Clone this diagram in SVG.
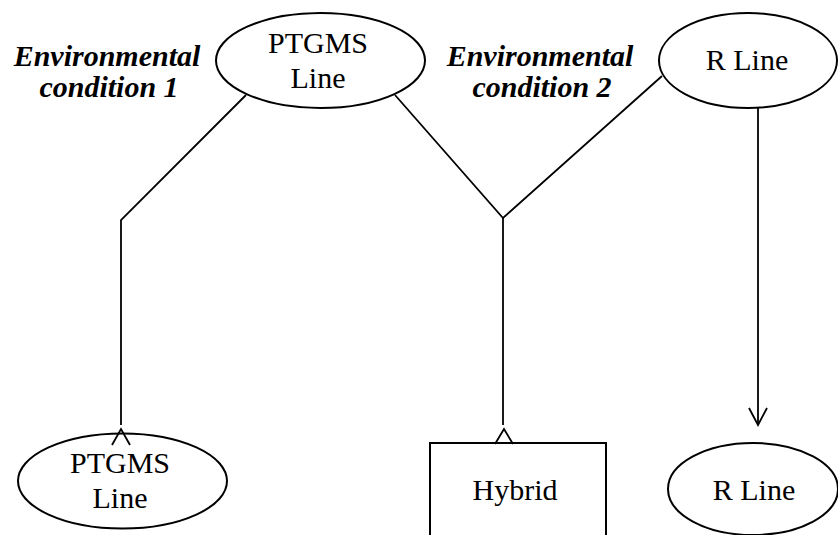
<svg xmlns="http://www.w3.org/2000/svg" width="838" height="535" viewBox="0 0 838 535">
<style>
.shape{fill:#fff;stroke:#000;stroke-width:2}
.lbl{font-family:"Liberation Serif",Tinos,"Times New Roman",Times,"Noto Serif","DejaVu Serif",serif;font-size:30px;fill:#000;text-anchor:middle}
.cond{font-family:"Liberation Serif",Tinos,"Times New Roman",Times,"Noto Serif","DejaVu Serif",serif;font-size:30px;font-weight:bold;font-style:italic;fill:#000;text-anchor:middle}
.edge{fill:none;stroke:#000;stroke-width:1.8}
</style>
<rect width="838" height="535" fill="#fff"/>
<g id="labels">
<text class="cond" x="107" y="66">Environmental</text>
<text class="cond" x="109" y="97">condition 1</text>
<text class="cond" x="540" y="66">Environmental</text>
<text class="cond" x="542" y="97">condition 2</text>
</g>
<g id="ptgms-top">
<ellipse class="shape" cx="320.5" cy="60.5" rx="104.5" ry="47.5"/>
<text class="lbl" x="318" y="53">PTGMS</text>
<text class="lbl" x="318" y="88">Line</text>
</g>
<g id="rline-top">
<ellipse class="shape" cx="748" cy="60.5" rx="89" ry="47.5"/>
<text class="lbl" x="747" y="70">R Line</text>
</g>
<g id="ptgms-bottom">
<ellipse class="shape" cx="122.5" cy="481" rx="104.5" ry="47.5"/>
<text class="lbl" x="120" y="473">PTGMS</text>
<text class="lbl" x="120" y="508">Line</text>
</g>
<g id="hybrid">
<rect class="shape" x="430" y="443" width="176" height="110"/>
<text class="lbl" x="515" y="500">Hybrid</text>
</g>
<g id="rline-bottom">
<ellipse class="shape" cx="753" cy="489" rx="85" ry="46"/>
<text class="lbl" x="754" y="500">R Line</text>
</g>
<g id="connectors">
<polyline class="edge" points="246,95 121,220 121,425"/>
<polyline class="edge" points="395,95 503,218 662,76"/>
<line class="edge" x1="503" y1="218" x2="503" y2="425"/>
<line class="edge" x1="758" y1="108" x2="758" y2="425"/>
<polyline class="edge" points="749,408 758,425 767,408"/>
<polyline class="edge" points="112,445 121,429 130,445"/>
<polyline class="edge" points="495,444 504,429 513,444"/>
</g>
</svg>
